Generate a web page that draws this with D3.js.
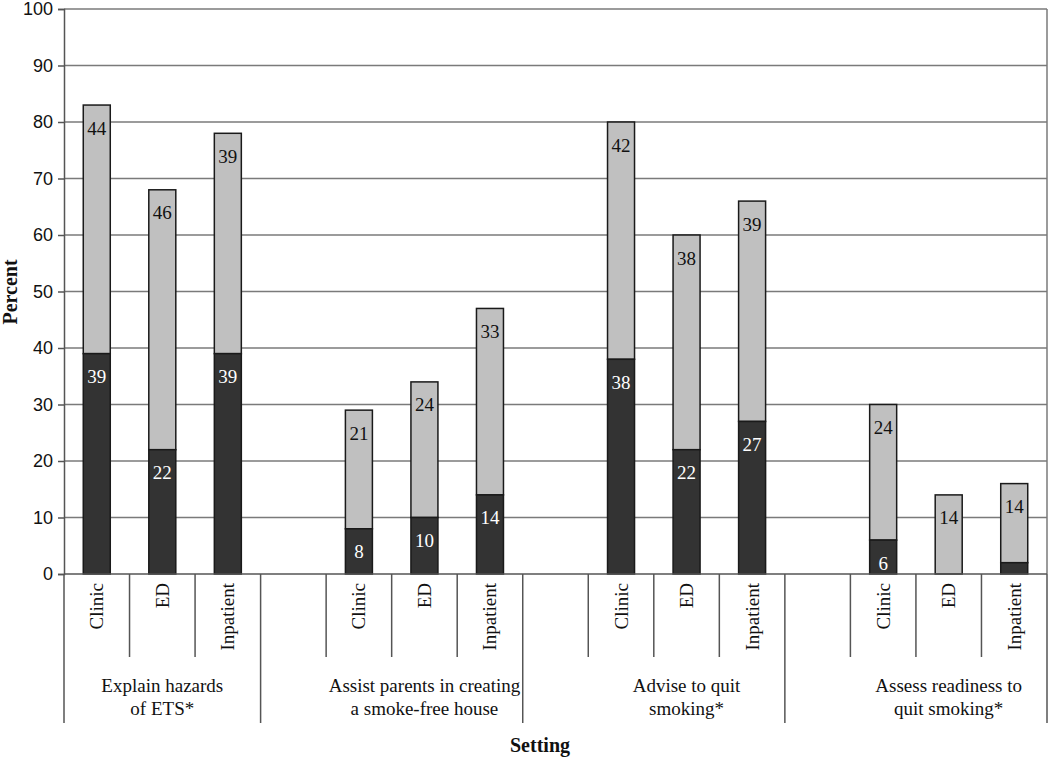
<!DOCTYPE html>
<html>
<head>
<meta charset="utf-8">
<script src="https://cdn.jsdelivr.net/npm/d3@7"></script>
<style>
  html, body { margin: 0; padding: 0; background: #fff; }
  svg { display: block; }
</style>
</head>
<body>
<svg id="chart" width="1050" height="759"></svg>
<script>
// ---- data ----
const groups = [
  ["Explain hazards", "of ETS*"],
  ["Assist parents in creating", "a smoke-free house"],
  ["Advise to quit", "smoking*"],
  ["Assess readiness to", "quit smoking*"]
];
const settings = ["Clinic", "ED", "Inpatient"];
// dark (bottom) segment values, per group x setting
const darkValues = [
  [39, 22, 39],
  [8, 10, 14],
  [38, 22, 27],
  [6, 0, 2]
];
// light (top) segment values
const lightValues = [
  [44, 46, 39],
  [21, 24, 33],
  [42, 38, 39],
  [24, 14, 14]
];
// labels shown for dark segments (null = not labelled)
const darkLabels = [
  ["39", "22", "39"],
  ["8", "10", "14"],
  ["38", "22", "27"],
  ["6", null, null]
];
const yTicks = [0, 10, 20, 30, 40, 50, 60, 70, 80, 90, 100];

// ---- build slots: group 1 has 3 slots, others have an empty spacer + 3 ----
const slots = [];
groups.forEach((g, gi) => {
  if (gi > 0) slots.push({ key: "gap" + gi, gi, empty: true });
  settings.forEach((s, si) => {
    slots.push({ key: "g" + gi + "s" + si, gi, si, setting: s, empty: false,
      dark: darkValues[gi][si], light: lightValues[gi][si], darkLabel: darkLabels[gi][si] });
  });
});

const svg = d3.select("#chart");
const mLeft = 64, mRight = 1047, mTop = 9, mBottom = 574;

const x = d3.scaleBand().domain(slots.map(d => d.key)).range([mLeft, mRight]).paddingInner(0).paddingOuter(0);
const y = d3.scaleLinear().domain([0, 100]).range([mBottom, mTop]);
const barW = 27;

const serif = "'Liberation Serif', 'Times New Roman', serif";
const sans = "'Liberation Sans', Arial, sans-serif";

// gridlines
svg.append("g").selectAll("line").data(yTicks.filter(t => t > 0)).join("line")
  .attr("x1", mLeft).attr("x2", mRight)
  .attr("y1", d => y(d)).attr("y2", d => y(d))
  .attr("stroke", "#7a7a7a").attr("stroke-width", 1.5);

// right border
svg.append("line").attr("x1", mRight).attr("x2", mRight).attr("y1", mTop).attr("y2", mBottom)
  .attr("stroke", "#7a7a7a").attr("stroke-width", 1.5);

// y axis
const yAxis = svg.append("g").attr("transform", `translate(${mLeft},0)`)
  .call(d3.axisLeft(y).tickValues(yTicks).tickSize(6).tickPadding(5));
yAxis.select(".domain").attr("stroke", "#555").attr("stroke-width", 1.5);
yAxis.selectAll(".tick line").attr("stroke", "#555").attr("stroke-width", 1.5);
yAxis.selectAll(".tick text").attr("font-family", sans).attr("font-size", 18).attr("fill", "#111");

// bars
const bars = slots.filter(d => !d.empty);
const bg = svg.append("g");
bg.selectAll("rect.light").data(bars).join("rect").attr("class", "light")
  .attr("x", d => x(d.key) + (x.bandwidth() - barW) / 2)
  .attr("width", barW)
  .attr("y", d => y(d.dark + d.light))
  .attr("height", d => y(d.dark) - y(d.dark + d.light))
  .attr("fill", "#c0c0c0").attr("stroke", "#1a1a1a").attr("stroke-width", 1.5);
bg.selectAll("rect.dark").data(bars.filter(d => d.dark > 0)).join("rect").attr("class", "dark")
  .attr("x", d => x(d.key) + (x.bandwidth() - barW) / 2)
  .attr("width", barW)
  .attr("y", d => y(d.dark))
  .attr("height", d => y(0) - y(d.dark))
  .attr("fill", "#333333").attr("stroke", "#1a1a1a").attr("stroke-width", 1.5);

// value labels
bg.selectAll("text.llab").data(bars).join("text").attr("class", "llab")
  .attr("x", d => x(d.key) + x.bandwidth() / 2)
  .attr("y", d => y(d.dark + d.light) + 23)
  .attr("text-anchor", "middle").attr("dominant-baseline", "central")
  .attr("font-family", serif).attr("font-size", 19).attr("fill", "#111")
  .text(d => d.light);
bg.selectAll("text.dlab").data(bars.filter(d => d.darkLabel)).join("text").attr("class", "dlab")
  .attr("x", d => x(d.key) + x.bandwidth() / 2)
  .attr("y", d => y(d.dark) + 23)
  .attr("text-anchor", "middle").attr("dominant-baseline", "central")
  .attr("font-family", serif).attr("font-size", 19).attr("fill", "#fff")
  .text(d => d.darkLabel);

// x axis baseline
svg.append("line").attr("x1", mLeft).attr("x2", mRight).attr("y1", mBottom).attr("y2", mBottom)
  .attr("stroke", "#555").attr("stroke-width", 1.5);

// category separators: long lines at left edge, group boundaries and right edge
const shortEnd = 657, longEnd = 723;
const lineData = [];
slots.forEach((d, i) => {
  lineData.push({ pos: x(d.key), long: i === 0 || d.empty });
});
lineData.push({ pos: mRight, long: true });
svg.append("g").selectAll("line").data(lineData).join("line")
  .attr("x1", d => d.pos).attr("x2", d => d.pos)
  .attr("y1", mBottom).attr("y2", d => d.long ? longEnd : shortEnd)
  .attr("stroke", "#555").attr("stroke-width", 1.5);

// category labels (rotated)
svg.append("g").selectAll("text").data(bars).join("text")
  .attr("transform", d => `translate(${x(d.key) + x.bandwidth() / 2},583) rotate(-90)`)
  .attr("text-anchor", "end").attr("dominant-baseline", "central")
  .attr("font-family", serif).attr("font-size", 19).attr("fill", "#111")
  .text(d => d.setting);

// group labels
const groupG = svg.append("g");
groups.forEach((g, gi) => {
  const gs = bars.filter(d => d.gi === gi);
  const x0 = x(gs[0].key), x1 = x(gs[gs.length - 1].key) + x.bandwidth();
  const cx = (x0 + x1) / 2;
  g.forEach((line, li) => {
    groupG.append("text").attr("x", cx).attr("y", 685 + li * 23)
      .attr("text-anchor", "middle").attr("dominant-baseline", "central")
      .attr("font-family", serif).attr("font-size", 19).attr("fill", "#111")
      .text(line);
  });
});

// axis titles
svg.append("text").attr("x", 540).attr("y", 745)
  .attr("text-anchor", "middle").attr("dominant-baseline", "central")
  .attr("font-family", serif).attr("font-size", 20).attr("font-weight", "bold").attr("fill", "#111")
  .text("Setting");
svg.append("text").attr("transform", "translate(10,292) rotate(-90)")
  .attr("text-anchor", "middle").attr("dominant-baseline", "central")
  .attr("font-family", serif).attr("font-size", 20).attr("font-weight", "bold").attr("fill", "#111")
  .text("Percent");
</script>
</body>
</html>
